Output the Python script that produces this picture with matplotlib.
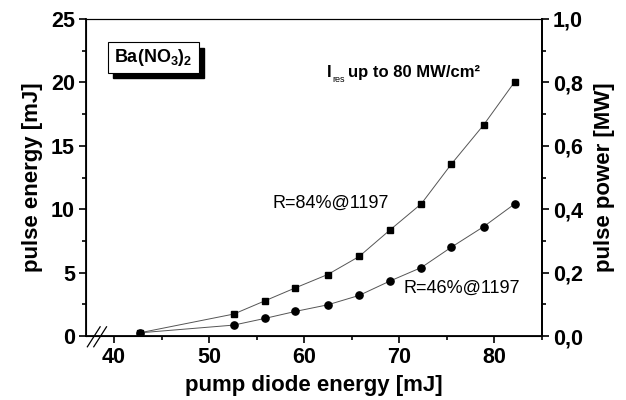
import matplotlib.pyplot as plt
from matplotlib.patches import Rectangle

# pump diode energy (mJ)
pump = [42.7, 52.6, 55.9, 59.1, 62.5, 65.8, 69.0, 72.35, 75.5, 78.9, 82.2]
# pulse energy (mJ), R=84% and R=46%
e84 = [0.25, 1.73, 2.78, 3.8, 4.85, 6.27, 8.33, 10.43, 13.55, 16.64, 20.07]
e46 = [0.25, 0.86, 1.39, 1.94, 2.46, 3.2, 4.32, 5.4, 7.0, 8.62, 10.43]

xticks = [40, 50, 60, 70, 80]
yticks = [0, 5, 10, 15, 20, 25]
pticks = [0.0, 0.2, 0.4, 0.6, 0.8, 1.0]
plabels = ['0,0', '0,2', '0,4', '0,6', '0,8', '1,0']

plt.rcParams['font.family'] = ['Liberation Sans', 'DejaVu Sans']

fig = plt.figure(figsize=(6.26, 4.0), dpi=100)
ax = fig.add_axes([86/626, 64/400, 456/626, 317/400])

# circles first so the square sits on top at the first point
ax.plot(pump, e46, '-', color='#555555', lw=0.7)
ax.plot(pump, e46, 'o', color='black', ms=5.2)
ax.plot(pump, e84, '-', color='#555555', lw=0.7)
ax.plot(pump, e84, 's', color='black', ms=4.6)

ax.set_xlim(37.05, 85.05)
ax.set_ylim(0, 25)
ax.set_xticks(xticks)
ax.set_xticks([45, 55, 65, 75, 85], minor=True)
ax.set_yticks(yticks)
ax.set_yticks([2.5, 7.5, 12.5, 17.5, 22.5], minor=True)
ax.tick_params(which='both', direction='out', top=False, right=False, width=1.2)
ax.tick_params(which='major', length=5, labelsize=15.5, pad=3)
ax.tick_params(which='minor', length=3)
for lab in ax.get_xticklabels() + ax.get_yticklabels():
    lab.set_fontweight('bold')
ax.set_xlabel('pump diode energy [mJ]', fontsize=16, fontweight='bold', labelpad=5)
ax.set_ylabel('pulse energy [mJ]', fontsize=16, fontweight='bold', labelpad=6)
for s in ['left', 'bottom', 'right']:
    ax.spines[s].set_linewidth(1.3)
ax.spines['top'].set_linewidth(0.8)

ax2 = ax.twinx()
ax2.set_ylim(0, 1.0)
ax2.set_yticks(pticks)
ax2.set_yticklabels(plabels)
ax2.set_yticks([0.1, 0.3, 0.5, 0.7, 0.9], minor=True)
ax2.tick_params(which='both', direction='out', width=1.2)
ax2.tick_params(which='major', length=5, labelsize=15.5, pad=3)
ax2.tick_params(which='minor', length=3)
for lab in ax2.get_yticklabels():
    lab.set_fontweight('bold')
ax2.set_ylabel('pulse power [MW]', fontsize=16, fontweight='bold', labelpad=8)
ax2.spines['right'].set_linewidth(1.3)

# axis break
for dx in [0.0, 0.014]:
    ax.plot([0.003 + dx, 0.031 + dx], [-0.034, 0.029], transform=ax.transAxes,
            color='black', lw=0.9, clip_on=False)

ax.text(56.7, 10.45, 'R=84%@1197', fontsize=13, va='center')
ax.text(70.5, 3.75, 'R=46%@1197', fontsize=13, va='center')
ax.text(62.4, 20.75, 'I', fontsize=12, fontweight='bold', va='center')
ax.text(63.0, 20.2, 'res', fontsize=6.5, va='center')
ax.text(64.6, 20.75, 'up to 80 MW/cm²', fontsize=12, fontweight='bold', va='center')

# label box with shadow
ax.add_patch(Rectangle((0.059, 0.815), 0.2, 0.095, transform=ax.transAxes,
                       facecolor='black', edgecolor='black', zorder=3))
ax.add_patch(Rectangle((0.048, 0.831), 0.2, 0.095, transform=ax.transAxes,
                       facecolor='white', edgecolor='black', lw=0.8, zorder=4))
ax.text(0.148, 0.878, r'Ba(NO$_{\mathregular{3}}$)$_{\mathregular{2}}$', transform=ax.transAxes,
        ha='center', va='center', fontsize=13, fontweight='bold', zorder=5)

fig.savefig('out.png', dpi=100)
